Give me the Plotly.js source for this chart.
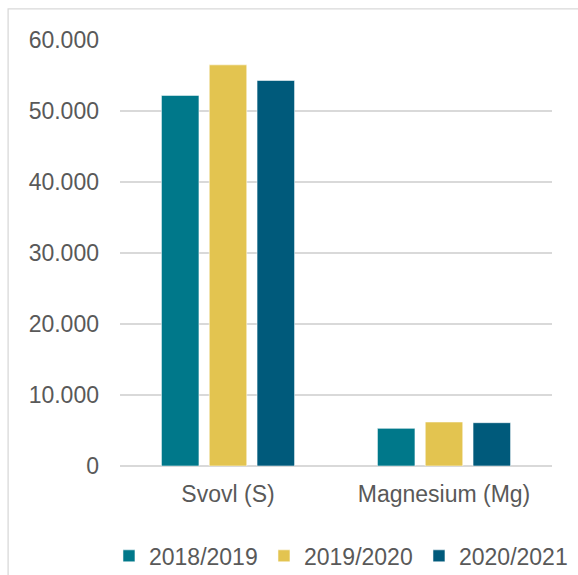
<!DOCTYPE html>
<html>
<head>
<meta charset="utf-8">
<script src="https://cdn.plot.ly/plotly-3.0.1.min.js"></script>
<style>html,body{margin:0;padding:0;background:#fff;}#chart{width:578px;height:575px;}</style>
</head>
<body>
<div id="chart"></div>
<script>
const categories = ["Svovl (S)", "Magnesium (Mg)"];
const seriesNames = ["2018/2019", "2019/2020", "2020/2021"];
const values2018 = [52200, 5300];
const values2019 = [56500, 6200];
const values2020 = [54300, 6100];
const colors = ["#00788A", "#E3C450", "#005A7B"];

const allValues = [values2018, values2019, values2020];
const traces = allValues.map((v, i) => ({
  type: "bar",
  x: categories,
  y: v,
  name: seriesNames[i],
  marker: {color: colors[i], line: {color: "rgba(255,255,255,0.55)", width: 1}},
  hoverinfo: "none"
}));

const layout = {
  width: 578,
  height: 575,
  paper_bgcolor: "#fff",
  plot_bgcolor: "#fff",
  separators: ",.",
  font: {family: "Liberation Sans, Arial, sans-serif", size: 23, color: "#595959"},
  margin: {l: 120, r: 26, t: 40, b: 109, autoexpand: false},
  barmode: "group",
  bargap: 0.336,
  bargroupgap: 0.215,
  showlegend: true,
  legend: {
    orientation: "h",
    xref: "paper", yref: "paper",
    x: -0.0255, xanchor: "left",
    y: -0.211, yanchor: "middle",
    font: {size: 23, color: "#595959"},
    itemwidth: 30,
    entrywidth: 110,
    entrywidthmode: "pixels",
    traceorder: "normal"
  },
  xaxis: {
    type: "category",
    showgrid: false,
    showline: false,
    zeroline: false,
    ticks: "",
    ticklabelstandoff: 12,
    tickfont: {size: 23, color: "#595959"}
  },
  yaxis: {
    range: [0, 60000],
    dtick: 10000,
    tickformat: ",d",
    showgrid: true,
    gridcolor: "#D9D9D9",
    gridwidth: 1.3,
    zeroline: true,
    zerolinecolor: "#D9D9D9",
    zerolinewidth: 1.3,
    showline: false,
    ticks: "",
    ticklabelstandoff: 20,
    tickfont: {size: 23, color: "#595959"}
  },
  shapes: [{
    type: "rect", xref: "paper", yref: "paper",
    x0: -0.259, x1: 1.2, y0: -0.4, y1: 1.073,
    line: {color: "#D9D9D9", width: 1.3},
    fillcolor: "rgba(0,0,0,0)",
    layer: "below"
  }]
};

Plotly.newPlot("chart", traces, layout, {displayModeBar: false, staticPlot: true});
</script>
</body>
</html>
